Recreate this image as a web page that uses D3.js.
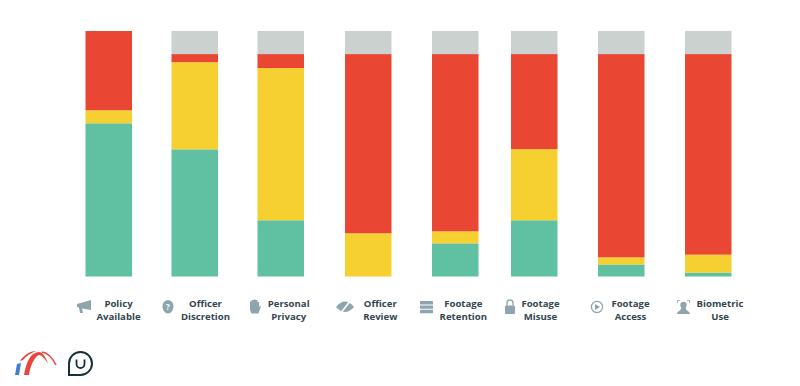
<!DOCTYPE html>
<html>
<head>
<meta charset="utf-8">
<script src="https://d3js.org/d3.v7.min.js"></script>
<style>
  html, body { margin: 0; padding: 0; background: #fff; }
  text { font-family: "Open Sans", sans-serif; font-weight: 700; font-size: 9.6px; fill: #33464f; }
</style>
</head>
<body>
<script>
//Chart data, share of departments in percent

const categories = ["Policy Available", "Officer Discretion", "Personal Privacy", "Officer Review",
  "Footage Retention", "Footage Misuse", "Footage Access", "Biometric Use"];
const statuses = ["green", "yellow", "red", "gray"];
const green  = [62.4, 51.8, 22.9,  0.0, 13.5, 22.9,  4.9,  1.6];
const yellow = [ 5.3, 35.5, 62.0, 17.6,  4.9, 29.0,  2.9,  7.3];
const red    = [32.3,  3.3,  5.7, 73.0, 72.2, 38.7, 82.8, 81.7];
const gray   = [ 0.0,  9.4,  9.4,  9.4,  9.4,  9.4,  9.4,  9.4];

const rows = categories.map((c, i) => ({
  category: c, green: green[i], yellow: yellow[i], red: red[i], gray: gray[i]
}));

const svg = d3.select("body").append("svg")
  .attr("width", 800)
  .attr("height", 386)
  .style("display", "block");

//Bars are not evenly spaced in the original, so x is an ordinal scale
const x = d3.scaleOrdinal()
  .domain(categories)
  .range([85.5, 171.5, 257.5, 345, 432, 511, 598, 685]);
const barWidth = 46.5;

const y = d3.scaleLinear().domain([0, 100]).range([276.5, 31]);

const color = d3.scaleOrdinal()
  .domain(statuses)
  .range(["#5fc1a2", "#f6cf30", "#e94633", "#cbd1cf"]);

const stacked = d3.stack().keys(statuses)(rows);

svg.append("g")
  .selectAll("g")
  .data(stacked)
  .join("g")
  .attr("fill", d => color(d.key))
  .selectAll("rect")
  .data(d => d)
  .join("rect")
  .attr("x", d => x(d.data.category))
  .attr("y", d => y(d[1]))
  .attr("width", barWidth)
  .attr("height", d => y(d[0]) - y(d[1]));

//Labels under the bars, icon on the left of each one
const iconColor = "#8ea5ae";
const labelX = [118.5, 205.5, 288.7, 380.3, 463.3, 540.5, 630.5, 720];
const iconX = [84, 168, 255.5, 345, 426.5, 510, 597, 683.5];

const labels = svg.append("g")
  .selectAll("text")
  .data(categories)
  .join("text")
  .attr("text-anchor", "middle")
  .attr("x", (d, i) => labelX[i])
  .attr("y", 306.5);

labels.append("tspan").text(d => d.split(" ")[0]);
labels.append("tspan")
  .attr("x", (d, i) => labelX[i])
  .attr("dy", 13.5)
  .text(d => d.split(" ")[1]);

const icons = svg.append("g")
  .selectAll("g")
  .data(categories)
  .join("g")
  .attr("transform", (d, i) => `translate(${iconX[i]},307)`)
  .attr("fill", iconColor);

//Megaphone
d3.select(icons.nodes()[0]).append("path")
  .attr("d", "M-7,-3 L7,-7 L7,3 L-2,1.5 L-1,6 L-4,6 L-5,0.5 L-7,0 Z");
//Head with question mark
d3.select(icons.nodes()[1]).call(g => {
  g.append("path").attr("d", "M-5.5,-1 A5.5,6 0 1 1 5.5,-1 C5.5,3 3,6.5 0,6.5 C-3,6.5 -5.5,3 -5.5,-1 Z");
  g.append("text").attr("text-anchor", "middle").attr("y", 2.5)
    .style("font-size", "8px").style("fill", "#fff").text("?");
});
//Raised hand
d3.select(icons.nodes()[2]).append("path")
  .attr("d", "M-5.5,-3 V-5.5 H-4 V-7 H-2 V-7.5 H0 V-7 H2 V-5 H3.5 V0 L4.5,-1.5 L5.5,-1 L3,6.5 H-4 L-5.5,3 Z");
//Crossed eye
d3.select(icons.nodes()[3]).call(g => {
  g.append("path").attr("d", "M-9,0 Q0,-11 9,0 Q0,10 -9,0 Z");
  g.append("path").attr("d", "M-5,7 L6,-7").attr("stroke", "#fff").attr("stroke-width", 1.6);
});
//Server stack
d3.select(icons.nodes()[4]).selectAll("rect")
  .data(["a", "b", "c"])
  .join("rect")
  .attr("x", -6.5).attr("width", 13).attr("height", 3.4).attr("rx", 0.6)
  .attr("y", (d, i) => -6 + i * 4.4);
//Padlock
d3.select(icons.nodes()[5]).call(g => {
  g.append("rect").attr("x", -5).attr("y", -1.5).attr("width", 10).attr("height", 8.5).attr("rx", 1);
  g.append("path").attr("d", "M-3,-1.5 V-4 A3,3 0 0 1 3,-4 V-1.5")
    .attr("fill", "none").attr("stroke", iconColor).attr("stroke-width", 1.4);
});
//Play button
d3.select(icons.nodes()[6]).call(g => {
  g.append("circle").attr("r", 5.6).attr("fill", "none").attr("stroke", iconColor).attr("stroke-width", 1.2);
  g.append("path").attr("d", "M-2,-3 L3,0 L-2,3 Z");
});
//Face scan
d3.select(icons.nodes()[7]).call(g => {
  g.append("circle").attr("cy", -2).attr("r", 3.2);
  g.append("path").attr("d", "M-6.5,7 C-6.5,4 -2,4 -2,0 H2 C2,4 6.5,4 6.5,7 Z");
  g.append("path").attr("d", "M-6,-4 V-6.5 H-3.5 M3.5,-6.5 H6 V-4")
    .attr("fill", "none").attr("stroke", iconColor).attr("stroke-width", 0.8);
});

//Logos bottom left
const logos = svg.append("g");
logos.append("path").attr("d", "M15,375 L17,364 L21,363 L19,375 Z").attr("fill", "#3f7fd0");
logos.append("path")
  .attr("d", "M24,375 C26,362 31,352 39,352 C43,352 46,358 48,364 C45,359 42,355 39,355 C35,356 30,366 29,375 Z")
  .attr("fill", "#e8453c");
logos.append("path")
  .attr("d", "M20,361 C24,355 30,351 36,351 C31,353 26,356 23,360 Z")
  .attr("fill", "#e8453c");
logos.append("path")
  .attr("d", "M42,352 C48,353 53,359 56,365")
  .attr("fill", "none").attr("stroke", "#e8453c").attr("stroke-width", 1.5);
logos.append("path")
  .attr("d", "M69,375 V363.5 A11.5,11.5 0 1 1 80.5,375 Z")
  .attr("fill", "none").attr("stroke", "#14323a").attr("stroke-width", 2);
logos.append("path")
  .attr("d", "M76.5,359.5 V364 A4,4 0 0 0 84.5,364 V359.5")
  .attr("fill", "none").attr("stroke", "#14323a").attr("stroke-width", 1.8);
</script>
</body>
</html>
